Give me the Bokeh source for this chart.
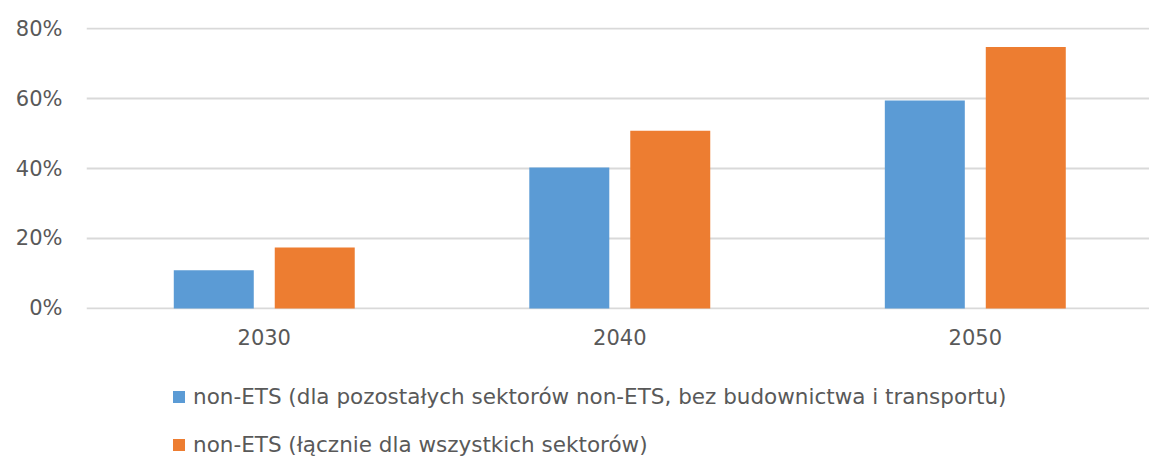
from bokeh.plotting import figure
from bokeh.layouts import column
from bokeh.models import ColumnDataSource, Legend, LegendItem, NumeralTickFormatter, FixedTicker, Range1d
from bokeh.embed import file_html
from bokeh.resources import INLINE

years = ["2030", "2040", "2050"]
series_names = ["non-ETS (dla pozostałych sektorów non-ETS, bez budownictwa i transportu)",
                "non-ETS (łącznie dla wszystkich sektorów)"]
blue_vals = [0.109, 0.403, 0.594]
orange_vals = [0.174, 0.508, 0.747]
colors = ["#5B9BD5", "#ED7D31"]
y_ticks = [0, 0.2, 0.4, 0.6, 0.8]

FONT = "DejaVu Sans"
TXT = "#595959"

xc = [i + 0.5 for i in range(len(years))]
off = 0.142
bw = 0.225

p = figure(width=1149, height=360, output_backend="svg", toolbar_location=None,
           x_range=Range1d(0, 2.99), y_range=Range1d(-0.003, 0.803),
           min_border_left=86, min_border_right=0, min_border_top=27, min_border_bottom=51)
p.outline_line_color = None
p.background_fill_color = "white"
p.border_fill_color = "white"

src_b = ColumnDataSource(dict(x=[v - off for v in xc], top=blue_vals))
src_o = ColumnDataSource(dict(x=[v + off for v in xc], top=orange_vals))
p.vbar(x="x", top="top", width=bw, source=src_b, fill_color=colors[0], line_color=None)
p.vbar(x="x", top="top", width=bw, source=src_o, fill_color=colors[1], line_color=None)

p.xgrid.grid_line_color = None
p.ygrid.grid_line_color = "#d9d9d9"
p.ygrid.grid_line_width = 2
p.yaxis.ticker = FixedTicker(ticks=y_ticks)
p.yaxis.formatter = NumeralTickFormatter(format="0%")
p.xaxis.ticker = FixedTicker(ticks=xc)
p.xaxis.major_label_overrides = {x: y for x, y in zip(xc, years)}

for ax in (p.xaxis, p.yaxis):
    ax.axis_line_color = None
    ax.major_tick_line_color = None
    ax.minor_tick_line_color = None
    ax.major_tick_out = 0
    ax.major_tick_in = 0
    ax.major_label_text_font = FONT
    ax.major_label_text_font_size = "21px"
    ax.major_label_text_color = TXT
p.yaxis.major_label_standoff = 24
p.xaxis.major_label_standoff = 19

# legend panel
lg = figure(width=1149, height=98, output_backend="svg", toolbar_location=None,
            x_range=Range1d(0, 1), y_range=Range1d(0, 1), x_axis_type=None, y_axis_type=None,
            min_border_left=0, min_border_right=0, min_border_top=0, min_border_bottom=0)
lg.outline_line_color = None
lg.xgrid.grid_line_color = None
lg.ygrid.grid_line_color = None
lg.background_fill_color = "white"
hidden = dict(x=[5.0], top=[1.0])
db = lg.vbar(x="x", top="top", width=0.1, source=ColumnDataSource(hidden), fill_color=colors[0], line_color=None)
do = lg.vbar(x="x", top="top", width=0.1, source=ColumnDataSource(hidden), fill_color=colors[1], line_color=None)

legend = Legend(items=[LegendItem(label=series_names[0], renderers=[db]),
                       LegendItem(label=series_names[1], renderers=[do])],
                location=(85, -1), orientation="vertical",
                label_text_font=FONT, label_text_font_size="21.5px", label_text_color=TXT,
                glyph_width=15, glyph_height=15, label_height=30, spacing=18,
                label_standoff=7, padding=0, margin=0,
                border_line_color=None, background_fill_alpha=0)
lg.add_layout(legend, "center")

layout = column(p, lg, spacing=0)
open("out.html", "w").write(file_html(layout, INLINE))
